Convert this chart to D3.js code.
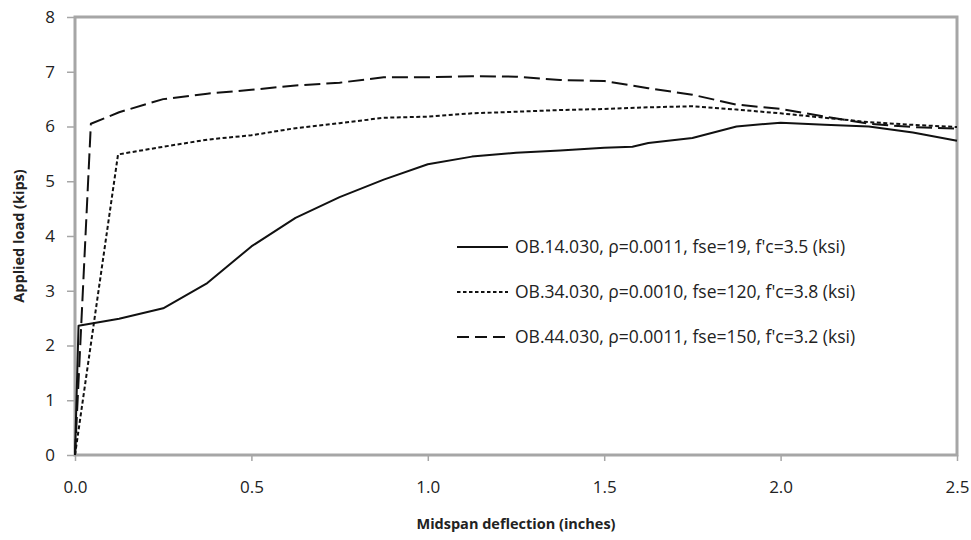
<!DOCTYPE html>
<html>
<head>
<meta charset="utf-8">
<script src="https://cdn.jsdelivr.net/npm/d3@7"></script>
<style>
    body { margin: 0; background: #fff; }
    text { font-family: "Open Sans", sans-serif; fill: #222; }
    .ticklabel { font-size: 17px; }
    .axistitle { font-size: 14.5px; font-weight: bold; }
    .legendlabel { font-size: 17.5px; }
</style>
</head>
<body>
<svg id="chart" width="971" height="540"></svg>
<script>
// deflection (inches) / load (kips)
const ob14X = [0, 0.01, 0.125, 0.25, 0.375, 0.5, 0.625, 0.75, 0.875, 1.0, 1.125, 1.25, 1.375, 1.5, 1.58, 1.625, 1.75, 1.875, 2.0, 2.125, 2.25, 2.375, 2.5];
const ob14Y = [0, 2.36, 2.49, 2.68, 3.14, 3.81, 4.33, 4.71, 5.03, 5.31, 5.45, 5.52, 5.56, 5.61, 5.63, 5.70, 5.79, 6.00, 6.07, 6.03, 6.00, 5.89, 5.74];

const ob34X = [0, 0.122, 0.25, 0.375, 0.5, 0.625, 0.75, 0.875, 1.0, 1.125, 1.25, 1.375, 1.5, 1.625, 1.75, 1.875, 2.0, 2.125, 2.25, 2.375, 2.5];
const ob34Y = [0, 5.49, 5.63, 5.76, 5.84, 5.97, 6.06, 6.16, 6.18, 6.24, 6.27, 6.30, 6.32, 6.35, 6.37, 6.31, 6.24, 6.16, 6.08, 6.03, 5.99];

const ob44X = [0, 0.045, 0.125, 0.25, 0.375, 0.5, 0.625, 0.75, 0.875, 1.0, 1.125, 1.25, 1.375, 1.5, 1.625, 1.75, 1.875, 2.0, 2.125, 2.25, 2.375, 2.5];
const ob44Y = [0, 6.05, 6.26, 6.50, 6.60, 6.67, 6.75, 6.80, 6.90, 6.90, 6.92, 6.91, 6.85, 6.83, 6.70, 6.58, 6.40, 6.32, 6.18, 6.05, 5.99, 5.96];

const seriesNames = [
    "OB.14.030, \u03c1=0.0011, fse=19, f'c=3.5 (ksi)",
    "OB.34.030, \u03c1=0.0010, fse=120, f'c=3.8 (ksi)",
    "OB.44.030, \u03c1=0.0011, fse=150, f'c=3.2 (ksi)"
];
const xTicks = [0, 0.5, 1.0, 1.5, 2.0, 2.5];
const yTicks = [0, 1, 2, 3, 4, 5, 6, 7, 8];

const dashes = ['none', '4,2.5', '16,6'];
const legendDashes = ['none', '3.5,2.5', '12,6'];

let svg = d3.select('#chart');

let plotLeft = 75, plotRight = 957, plotTop = 17, plotBottom = 455;

let x = d3.scaleLinear().domain([0, 2.5]).range([plotLeft, plotRight]);
let y = d3.scaleLinear().domain([0, 8]).range([plotBottom, plotTop]);

let frameColor = '#a6a6a6';

// ticks
svg.append('g')
    .attr('transform', `translate(0,${plotBottom})`)
    .call(d3.axisBottom(x).tickValues(xTicks).tickFormat(d3.format('.1f')).tickSize(6).tickPadding(20))
    .call(g => g.select('.domain').remove())
    .call(g => g.selectAll('line').attr('stroke', frameColor).attr('stroke-width', 1.5));

svg.append('g')
    .attr('transform', `translate(${plotLeft},0)`)
    .call(d3.axisLeft(y).tickValues(yTicks).tickFormat(d3.format('d')).tickSize(8).tickPadding(12))
    .call(g => g.select('.domain').remove())
    .call(g => g.selectAll('line').attr('stroke', frameColor).attr('stroke-width', 1.5));

svg.selectAll('.tick text')
    .attr('class', 'ticklabel')
    .attr('fill', '#222');
svg.selectAll('g').attr('font-family', null).attr('font-size', null);

// frame
svg.append('rect')
    .attr('x', plotLeft)
    .attr('y', plotTop)
    .attr('width', plotRight - plotLeft)
    .attr('height', plotBottom - plotTop)
    .attr('fill', 'none')
    .attr('stroke', frameColor)
    .attr('stroke-width', 3);

// curves
let series = [
    d3.zip(ob14X, ob14Y),
    d3.zip(ob34X, ob34Y),
    d3.zip(ob44X, ob44Y)
];

let line = d3.line()
    .x(d => x(d[0]))
    .y(d => y(d[1]));

svg.append('g')
    .selectAll('path')
    .data(series)
    .enter()
    .append('path')
    .attr('d', line)
    .attr('fill', 'none')
    .attr('stroke', '#111')
    .attr('stroke-width', 2)
    .attr('stroke-dasharray', (d, i) => dashes[i])
    .attr('stroke-linejoin', 'round');

// legend
let legend = svg.append('g')
    .selectAll('g')
    .data(seriesNames)
    .enter()
    .append('g')
    .attr('transform', (d, i) => `translate(457,${247 + i * 45})`);

legend.append('line')
    .attr('x1', 0)
    .attr('x2', 51)
    .attr('y1', 0)
    .attr('y2', 0)
    .attr('stroke', '#111')
    .attr('stroke-width', 2)
    .attr('stroke-dasharray', (d, i) => legendDashes[i]);

legend.append('text')
    .attr('class', 'legendlabel')
    .attr('x', 58)
    .attr('y', 0)
    .attr('dy', '0.35em')
    .text(d => d);

// axis titles
svg.append('text')
    .attr('class', 'axistitle')
    .attr('x', (plotLeft + plotRight) / 2)
    .attr('y', 529)
    .attr('text-anchor', 'middle')
    .text('Midspan deflection (inches)');

svg.append('text')
    .attr('class', 'axistitle')
    .attr('transform', `translate(24,${(plotTop + plotBottom) / 2}) rotate(-90)`)
    .attr('text-anchor', 'middle')
    .text('Applied load (kips)');
</script>
</body>
</html>
